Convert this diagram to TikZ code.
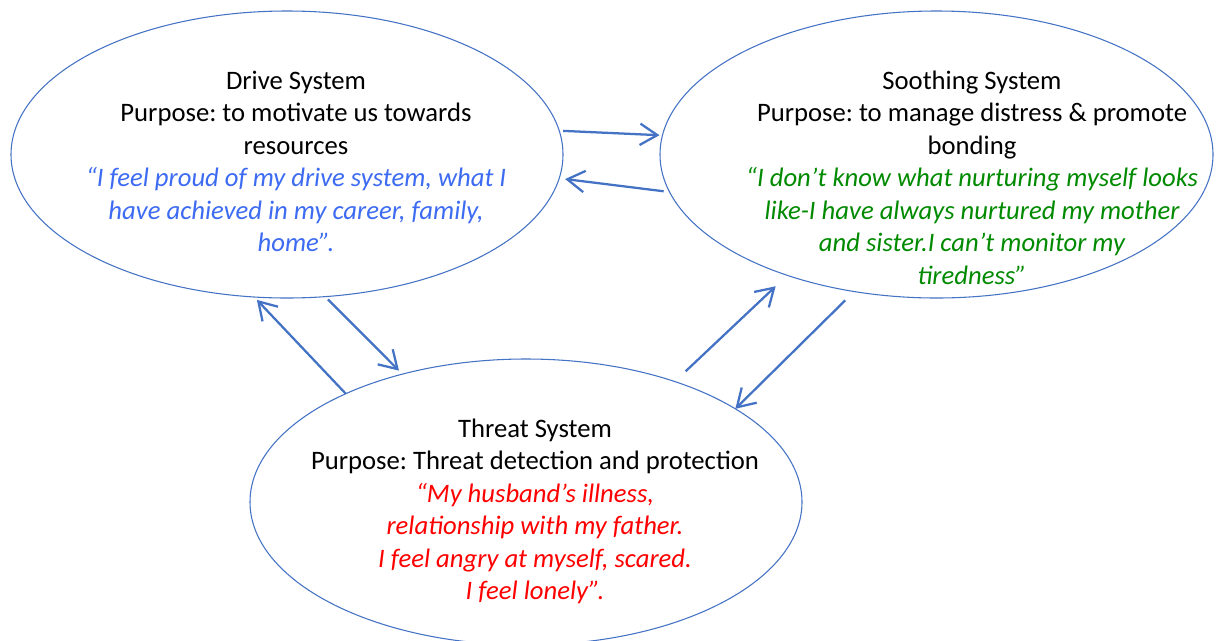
\documentclass[tikz,border=0pt]{standalone}
\usepackage{fontspec}
\setmainfont{Carlito}
\usetikzlibrary{shapes.geometric,arrows.meta}
\definecolor{edgeblue}{HTML}{4472C4}
\definecolor{quoteblue}{HTML}{3D6BF2}
\definecolor{quotegreen}{HTML}{008A00}
\definecolor{quotered}{HTML}{FF0000}
\tikzset{
  sys/.style={ellipse, draw=edgeblue, line width=0.8pt, inner sep=0pt, outer sep=0pt},
  arr/.style={draw=edgeblue, line width=1.7pt, -{Straight Barb[length=13pt,width=16pt]}},
  txt/.style={align=center, inner sep=0pt, font={\fontsize{20pt}{24.4pt}\selectfont\frenchspacing}},
}
\begin{document}
\begin{tikzpicture}[x=0.75pt,y=-0.75pt]
\clip (0,0) rectangle (1220,640);
\fill[white] (0,0) rectangle (1220,640);
\node[sys, minimum width=414pt, minimum height=215.25pt] (drive) at (287,154.5) {};
\node[sys, minimum width=414.75pt, minimum height=215.25pt] (sooth) at (936.5,154.5) {};
\node[sys, minimum width=414pt, minimum height=214.5pt] (threat) at (526,502) {};

\node[txt] (drivetxt) at (296,161.5) {Drive System\\Purpose: to motivate us towards\\resources\\
  \textcolor{quoteblue}{\itshape “I feel proud of my drive system, what I}\\
  \textcolor{quoteblue}{\itshape have achieved in my career, family,}\\
  \textcolor{quoteblue}{\itshape home”.}};
\node[txt] (soothtxt) at (972,177.5) {Soothing System\\Purpose: to manage distress \& promote\\bonding\\
  \textcolor{quotegreen}{\itshape “I don’t know what nurturing myself looks}\\
  \textcolor{quotegreen}{\itshape like-I have always nurtured my mother}\\
  \textcolor{quotegreen}{\itshape and sister.I can’t monitor my}\\
  \textcolor{quotegreen}{\itshape tiredness”}};
\node[txt] (threattxt) at (535,511.5) {Threat System\\Purpose: Threat detection and protection\\
  \textcolor{quotered}{\itshape “My husband’s illness,}\\
  \textcolor{quotered}{\itshape relationship with my father.}\\
  \textcolor{quotered}{\itshape I feel angry at myself, scared.}\\
  \textcolor{quotered}{\itshape I feel lonely”.}};

\draw[arr, shorten <=3pt, shorten >=2.25pt] (drive.5.26) -- (sooth.176.56);
\draw[arr, shorten <=4.5pt, shorten >=4.5pt] (sooth.-172.7) -- (drive.-5.04);
\draw[arr, shorten <=3pt, shorten >=3.75pt] (drive.-75.5) -- (threat.134.3);
\draw[arr, shorten >=3pt] (threat.149.65) -- (drive.-103.7);
\draw[arr, shorten <=11.25pt, shorten >=12pt] (threat.39.1) -- (sooth.-141.9);
\draw[arr, shorten <=9.4pt] (sooth.-121.7) -- (threat.24.2);
\end{tikzpicture}
\end{document}
